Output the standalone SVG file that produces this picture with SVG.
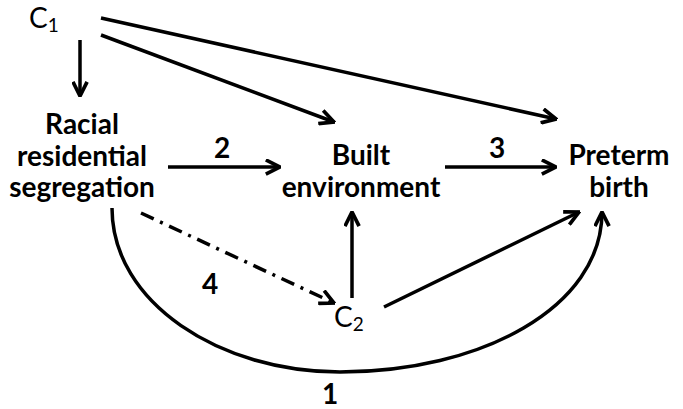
<svg xmlns="http://www.w3.org/2000/svg" width="683" height="409" viewBox="0 0 683 409">
<style>
.lbl{font-family:Lato,"Open Sans","Liberation Sans",sans-serif;font-weight:bold;font-size:28px;fill:#000;text-anchor:middle}
.c{font-family:Lato,"Open Sans","Liberation Sans",sans-serif;font-size:28px;fill:#000}
.sub{font-size:19px}
.e{fill:none;stroke:#000;stroke-width:3.5}
</style>
<defs>
<marker id="ah" viewBox="0 0 12 12" refX="11" refY="6" markerWidth="17" markerHeight="17" markerUnits="userSpaceOnUse" orient="auto">
<path d="M1,1 L11,6 L1,11" fill="none" stroke="#000" stroke-width="2.6"/>
</marker>
</defs>
<rect width="683" height="409" fill="#fff"/>
<g id="connectors">
<line class="e" x1="80" y1="40" x2="80" y2="96" marker-end="url(#ah)"/>
<line class="e" x1="101" y1="35" x2="334" y2="122" marker-end="url(#ah)"/>
<line class="e" x1="101" y1="18" x2="556" y2="119" marker-end="url(#ah)"/>
<line class="e" x1="168" y1="167" x2="280" y2="167" marker-end="url(#ah)"/>
<line class="e" x1="445" y1="167" x2="556" y2="167" marker-end="url(#ah)"/>
<line class="e" x1="352" y1="298" x2="352" y2="212" marker-end="url(#ah)"/>
<line class="e" x1="384" y1="307" x2="579" y2="212" marker-end="url(#ah)"/>
<line class="e" x1="141" y1="213" x2="334" y2="303" stroke-dasharray="14,7,3,7" marker-end="url(#ah)"/>
<path class="e" stroke-width="2.6" d="M112,208 C112,303 220,372 340,372 C480,372 602,308 602,212" marker-end="url(#ah)"/>
<text class="lbl" x="222" y="158">2</text>
<text class="lbl" x="497" y="158">3</text>
<text class="lbl" x="210" y="294">4</text>
<text class="lbl" x="330" y="404">1</text>
</g>
<g id="c1"><text class="c" x="29" y="28">C<tspan class="sub" dy="4">1</tspan></text></g>
<g id="racial"><text class="lbl" x="82" y="134">Racial</text><text class="lbl" x="82" y="166">residential</text><text class="lbl" x="82" y="197">segregation</text></g>
<g id="built"><text class="lbl" x="361" y="165">Built</text><text class="lbl" x="361" y="197">environment</text></g>
<g id="preterm"><text class="lbl" x="619" y="165">Preterm</text><text class="lbl" x="619" y="197">birth</text></g>
<g id="c2"><text class="c" x="334" y="327">C<tspan class="sub" dy="4">2</tspan></text></g>
</svg>
